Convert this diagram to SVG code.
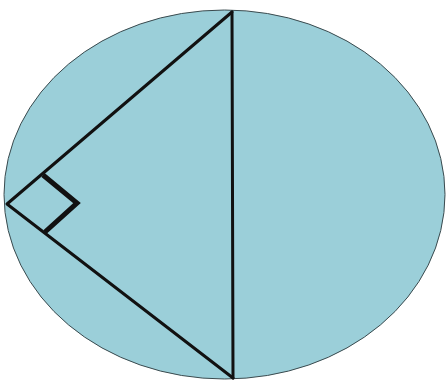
<svg xmlns="http://www.w3.org/2000/svg" width="446" height="381" viewBox="0 0 446 381">
<style>
.ln{stroke:#111;stroke-width:3;fill:none;stroke-linecap:round;stroke-linejoin:round}
</style>
<rect width="446" height="381" fill="#fff"/>
<g id="circle"><ellipse cx="224.5" cy="194.5" rx="220.5" ry="184.5" fill="#9bcfd9" stroke="#3a4a4e" stroke-width="1"/></g>
<g id="connectors">
<polyline class="ln" points="232,12 7,204 233,378"/>
<line class="ln" x1="232" y1="12" x2="233" y2="378"/>
<polyline class="ln" points="43,175 77,203 45,232" style="stroke-width:5;stroke-linecap:butt;stroke-linejoin:miter"/>
</g>
</svg>
